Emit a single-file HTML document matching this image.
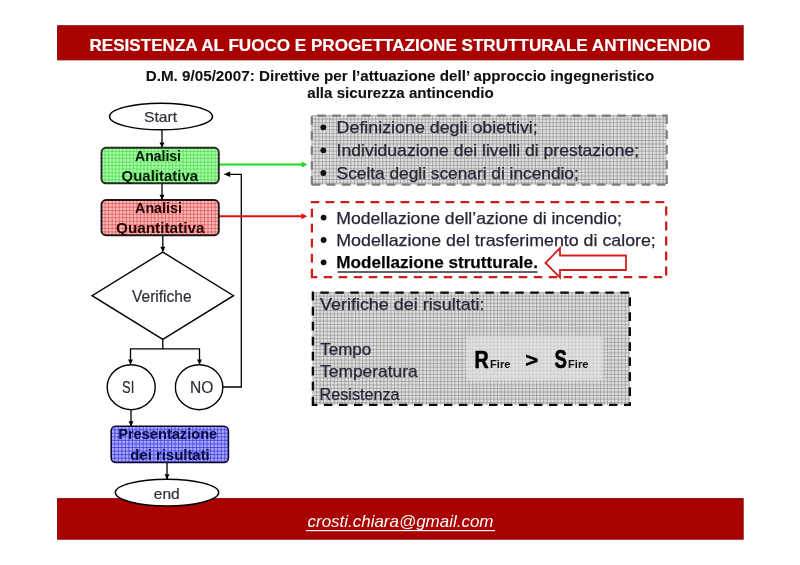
<!DOCTYPE html>
<html><head><meta charset="utf-8">
<style>
html,body{margin:0;padding:0;background:#fff;width:800px;height:565px;overflow:hidden}
svg{display:block;will-change:transform}
text{font-family:"Liberation Sans",sans-serif}
</style></head>
<body>
<svg width="800" height="565" viewBox="0 0 800 565">
<defs>
  <filter id="soft" x="-10%" y="-20%" width="120%" height="140%"><feGaussianBlur stdDeviation="1.2"/></filter>
  <marker id="ah" markerWidth="6" markerHeight="6" refX="5" refY="3" orient="auto" markerUnits="userSpaceOnUse">
    <path d="M0 0L6 3L0 6z" fill="#000"/>
  </marker>
</defs>

<!-- top red bar -->
<rect x="57.6" y="25.7" width="685.6" height="34.2" fill="#a90000" stroke="#8c0000" stroke-width="0.9"/>
<text x="400" y="50.5" text-anchor="middle" font-size="17" font-weight="bold" fill="#fff" stroke="#fff" stroke-width="0.2" textLength="621" lengthAdjust="spacingAndGlyphs">RESISTENZA AL FUOCO E PROGETTAZIONE STRUTTURALE ANTINCENDIO</text>

<!-- subtitle -->
<text x="400" y="81" text-anchor="middle" font-size="15.4" font-weight="bold" fill="#111" stroke="#111" stroke-width="0.1" textLength="508.5" lengthAdjust="spacingAndGlyphs">D.M. 9/05/2007: Direttive per l’attuazione dell’ approccio ingegneristico</text>
<text x="400.5" y="98.2" text-anchor="middle" font-size="15.4" font-weight="bold" fill="#111" stroke="#111" stroke-width="0.1" textLength="186.5" lengthAdjust="spacingAndGlyphs">alla sicurezza antincendio</text>

<!-- bottom red bar -->
<rect x="57.6" y="498.6" width="685.6" height="40.6" fill="#a90000" stroke="#8c0000" stroke-width="0.9"/>
<text x="400.5" y="527.3" text-anchor="middle" font-size="17" font-style="italic" fill="#fff" textLength="186" lengthAdjust="spacingAndGlyphs">crosti.chiara@gmail.com</text>
<rect x="306" y="530" width="189" height="1.2" fill="#fff"/>

<!-- flowchart connectors -->
<g stroke="#000" stroke-width="1.3" fill="none">
  <line x1="162" y1="130" x2="162" y2="147"/>
  <line x1="162" y1="183.5" x2="162" y2="199.5"/>
  <line x1="162.8" y1="235.5" x2="162.8" y2="251.5"/>
  <polyline points="162.8,339.5 162.8,348.9 130.5,348.9 130.5,364"/>
  <polyline points="162.8,348.9 199.5,348.9 199.5,364"/>
  <polyline points="222.8,387 241.3,387 241.3,174.3 226,174.3"/>
  <line x1="131" y1="409.7" x2="131" y2="426"/>
  <line x1="167" y1="462.5" x2="167" y2="479"/>
</g>
<g fill="#000">
  <path d="M159.5 142.4L164.5 142.4L162 147.6z"/>
  <path d="M159.5 194.8L164.5 194.8L162 200z"/>
  <path d="M160.3 246.8L165.3 246.8L162.8 252z"/>
  <path d="M128.0 359.4L133.0 359.4L130.5 364.6z"/>
  <path d="M197.0 359.4L202.0 359.4L199.5 364.6z"/>
  <path d="M128.5 421.2L133.5 421.2L131 426.4z"/>
  <path d="M164.5 474.2L169.5 474.2L167 479.4z"/>
  <path d="M223.6 174.3L230.2 171.5L230.2 177.1z"/>
</g>

<!-- green & red connectors -->
<line x1="219" y1="164.5" x2="303" y2="164.5" stroke="#1edc1e" stroke-width="2.1"/>
<path d="M307.5 164.5L301.6 161.5L301.6 167.5z" fill="#1edc1e"/>
<line x1="219" y1="216.3" x2="302" y2="216.3" stroke="#e01010" stroke-width="2.1"/>
<path d="M307.2 216.3L301.3 213.3L301.3 219.3z" fill="#e01010"/>

<!-- start ellipse -->
<ellipse cx="161" cy="116.5" rx="51.5" ry="13.3" fill="#fff" stroke="#000" stroke-width="1.4"/>
<text x="160.6" y="121.6" text-anchor="middle" font-size="14.8" fill="#2e2e3a" stroke="#2e2e3a" stroke-width="0.2" textLength="33" lengthAdjust="spacingAndGlyphs">Start</text>

<!-- green box -->
<clipPath id="c1"><rect x="101.5" y="147.8" width="117.3" height="35.5" rx="4.5"/></clipPath>
<g clip-path="url(#c1)"><rect x="101.5" y="147.8" width="117.3" height="35.5" fill="#a8fea8"/><path d="M101.50 147.8V183.3M105.05 147.8V183.3M108.60 147.8V183.3M112.15 147.8V183.3M115.70 147.8V183.3M119.25 147.8V183.3M122.80 147.8V183.3M126.35 147.8V183.3M129.90 147.8V183.3M133.45 147.8V183.3M137.00 147.8V183.3M140.55 147.8V183.3M144.10 147.8V183.3M147.65 147.8V183.3M151.20 147.8V183.3M154.75 147.8V183.3M158.30 147.8V183.3M161.85 147.8V183.3M165.40 147.8V183.3M168.95 147.8V183.3M172.50 147.8V183.3M176.05 147.8V183.3M179.60 147.8V183.3M183.15 147.8V183.3M186.70 147.8V183.3M190.25 147.8V183.3M193.80 147.8V183.3M197.35 147.8V183.3M200.90 147.8V183.3M204.45 147.8V183.3M208.00 147.8V183.3M211.55 147.8V183.3M215.10 147.8V183.3M218.65 147.8V183.3M101.5 147.80H218.8M101.5 151.35H218.8M101.5 154.90H218.8M101.5 158.45H218.8M101.5 162.00H218.8M101.5 165.55H218.8M101.5 169.10H218.8M101.5 172.65H218.8M101.5 176.20H218.8M101.5 179.75H218.8" stroke="#4ad64a" stroke-width="0.7" fill="none"/></g>
<rect x="101.5" y="147.8" width="117.3" height="35.5" rx="4.5" fill="none" stroke="#232823" stroke-width="1.9"/>
<text x="158" y="160.5" text-anchor="middle" font-size="15" font-weight="bold" fill="#001800" textLength="46" lengthAdjust="spacingAndGlyphs">Analisi</text>
<text x="159.8" y="181" text-anchor="middle" font-size="15" font-weight="bold" fill="#001800" textLength="76.5" lengthAdjust="spacingAndGlyphs">Qualitativa</text>

<!-- red box -->
<clipPath id="c2"><rect x="101.5" y="200" width="117.3" height="35.2" rx="4.5"/></clipPath>
<g clip-path="url(#c2)"><rect x="101.5" y="200" width="117.3" height="35.2" fill="#ffbcbc"/><path d="M101.50 200V235.2M105.05 200V235.2M108.60 200V235.2M112.15 200V235.2M115.70 200V235.2M119.25 200V235.2M122.80 200V235.2M126.35 200V235.2M129.90 200V235.2M133.45 200V235.2M137.00 200V235.2M140.55 200V235.2M144.10 200V235.2M147.65 200V235.2M151.20 200V235.2M154.75 200V235.2M158.30 200V235.2M161.85 200V235.2M165.40 200V235.2M168.95 200V235.2M172.50 200V235.2M176.05 200V235.2M179.60 200V235.2M183.15 200V235.2M186.70 200V235.2M190.25 200V235.2M193.80 200V235.2M197.35 200V235.2M200.90 200V235.2M204.45 200V235.2M208.00 200V235.2M211.55 200V235.2M215.10 200V235.2M218.65 200V235.2M101.5 200.00H218.8M101.5 203.55H218.8M101.5 207.10H218.8M101.5 210.65H218.8M101.5 214.20H218.8M101.5 217.75H218.8M101.5 221.30H218.8M101.5 224.85H218.8M101.5 228.40H218.8M101.5 231.95H218.8" stroke="#d84c4c" stroke-width="0.7" fill="none"/></g>
<rect x="101.5" y="200" width="117.3" height="35.2" rx="4.5" fill="none" stroke="#221414" stroke-width="1.9"/>
<text x="158.5" y="213" text-anchor="middle" font-size="15" font-weight="bold" fill="#200" textLength="46.9" lengthAdjust="spacingAndGlyphs">Analisi</text>
<text x="160.2" y="233.2" text-anchor="middle" font-size="15" font-weight="bold" fill="#200" textLength="88.4" lengthAdjust="spacingAndGlyphs">Quantitativa</text>

<!-- diamond -->
<path d="M162.8 252.1L233.5 295.7L162.8 339.4L92.1 295.7z" fill="#fff" stroke="#000" stroke-width="1.4"/>
<text x="161.8" y="301.6" text-anchor="middle" font-size="16" fill="#2e2e3a" stroke="#2e2e3a" stroke-width="0.2" textLength="59.5" lengthAdjust="spacingAndGlyphs">Verifiche</text>

<!-- SI / NO -->
<ellipse cx="131.2" cy="387.2" rx="24" ry="22.5" fill="#fff" stroke="#000" stroke-width="1.4"/>
<text x="128.2" y="393.4" text-anchor="middle" font-size="16" fill="#2e2e3a" stroke="#2e2e3a" stroke-width="0.2" textLength="12.2" lengthAdjust="spacingAndGlyphs">SI</text>
<ellipse cx="199.1" cy="387.2" rx="23.7" ry="22.5" fill="#fff" stroke="#000" stroke-width="1.4"/>
<text x="201.7" y="393.4" text-anchor="middle" font-size="16" fill="#2e2e3a" stroke="#2e2e3a" stroke-width="0.2" textLength="23.4" lengthAdjust="spacingAndGlyphs">NO</text>

<!-- blue box -->
<clipPath id="c3"><rect x="111.2" y="426.2" width="117.2" height="36.3" rx="4.5"/></clipPath>
<g clip-path="url(#c3)"><rect x="111.2" y="426.2" width="117.2" height="36.3" fill="#a8a8ff"/><path d="M111.20 426.2V462.5M114.75 426.2V462.5M118.30 426.2V462.5M121.85 426.2V462.5M125.40 426.2V462.5M128.95 426.2V462.5M132.50 426.2V462.5M136.05 426.2V462.5M139.60 426.2V462.5M143.15 426.2V462.5M146.70 426.2V462.5M150.25 426.2V462.5M153.80 426.2V462.5M157.35 426.2V462.5M160.90 426.2V462.5M164.45 426.2V462.5M168.00 426.2V462.5M171.55 426.2V462.5M175.10 426.2V462.5M178.65 426.2V462.5M182.20 426.2V462.5M185.75 426.2V462.5M189.30 426.2V462.5M192.85 426.2V462.5M196.40 426.2V462.5M199.95 426.2V462.5M203.50 426.2V462.5M207.05 426.2V462.5M210.60 426.2V462.5M214.15 426.2V462.5M217.70 426.2V462.5M221.25 426.2V462.5M224.80 426.2V462.5M228.35 426.2V462.5M111.2 426.20H228.4M111.2 429.75H228.4M111.2 433.30H228.4M111.2 436.85H228.4M111.2 440.40H228.4M111.2 443.95H228.4M111.2 447.50H228.4M111.2 451.05H228.4M111.2 454.60H228.4M111.2 458.15H228.4M111.2 461.70H228.4" stroke="#3a3ad8" stroke-width="0.75" fill="none"/></g>
<rect x="111.2" y="426.2" width="117.2" height="36.3" rx="4.5" fill="none" stroke="#0a0a30" stroke-width="1.6"/>
<text x="167.7" y="439.2" text-anchor="middle" font-size="15" font-weight="bold" fill="#0a0a40" textLength="99" lengthAdjust="spacingAndGlyphs">Presentazione</text>
<text x="170" y="459.5" text-anchor="middle" font-size="15" font-weight="bold" fill="#0a0a40" textLength="79.5" lengthAdjust="spacingAndGlyphs">dei risultati</text>

<!-- end ellipse -->
<ellipse cx="167" cy="492.6" rx="51.7" ry="13.3" fill="#fff" stroke="#000" stroke-width="1.4"/>
<text x="166.8" y="498.5" text-anchor="middle" font-size="14.8" fill="#2e2e3a" stroke="#2e2e3a" stroke-width="0.2" textLength="25.9" lengthAdjust="spacingAndGlyphs">end</text>

<!-- gray box 1 -->
<rect x="311.8" y="115.6" width="354.9" height="69.1" fill="#e0e0e0"/><path d="M311.80 115.6V184.7M315.35 115.6V184.7M318.90 115.6V184.7M322.45 115.6V184.7M326.00 115.6V184.7M329.55 115.6V184.7M333.10 115.6V184.7M336.65 115.6V184.7M340.20 115.6V184.7M343.75 115.6V184.7M347.30 115.6V184.7M350.85 115.6V184.7M354.40 115.6V184.7M357.95 115.6V184.7M361.50 115.6V184.7M365.05 115.6V184.7M368.60 115.6V184.7M372.15 115.6V184.7M375.70 115.6V184.7M379.25 115.6V184.7M382.80 115.6V184.7M386.35 115.6V184.7M389.90 115.6V184.7M393.45 115.6V184.7M397.00 115.6V184.7M400.55 115.6V184.7M404.10 115.6V184.7M407.65 115.6V184.7M411.20 115.6V184.7M414.75 115.6V184.7M418.30 115.6V184.7M421.85 115.6V184.7M425.40 115.6V184.7M428.95 115.6V184.7M432.50 115.6V184.7M436.05 115.6V184.7M439.60 115.6V184.7M443.15 115.6V184.7M446.70 115.6V184.7M450.25 115.6V184.7M453.80 115.6V184.7M457.35 115.6V184.7M460.90 115.6V184.7M464.45 115.6V184.7M468.00 115.6V184.7M471.55 115.6V184.7M475.10 115.6V184.7M478.65 115.6V184.7M482.20 115.6V184.7M485.75 115.6V184.7M489.30 115.6V184.7M492.85 115.6V184.7M496.40 115.6V184.7M499.95 115.6V184.7M503.50 115.6V184.7M507.05 115.6V184.7M510.60 115.6V184.7M514.15 115.6V184.7M517.70 115.6V184.7M521.25 115.6V184.7M524.80 115.6V184.7M528.35 115.6V184.7M531.90 115.6V184.7M535.45 115.6V184.7M539.00 115.6V184.7M542.55 115.6V184.7M546.10 115.6V184.7M549.65 115.6V184.7M553.20 115.6V184.7M556.75 115.6V184.7M560.30 115.6V184.7M563.85 115.6V184.7M567.40 115.6V184.7M570.95 115.6V184.7M574.50 115.6V184.7M578.05 115.6V184.7M581.60 115.6V184.7M585.15 115.6V184.7M588.70 115.6V184.7M592.25 115.6V184.7M595.80 115.6V184.7M599.35 115.6V184.7M602.90 115.6V184.7M606.45 115.6V184.7M610.00 115.6V184.7M613.55 115.6V184.7M617.10 115.6V184.7M620.65 115.6V184.7M624.20 115.6V184.7M627.75 115.6V184.7M631.30 115.6V184.7M634.85 115.6V184.7M638.40 115.6V184.7M641.95 115.6V184.7M645.50 115.6V184.7M649.05 115.6V184.7M652.60 115.6V184.7M656.15 115.6V184.7M659.70 115.6V184.7M663.25 115.6V184.7M311.8 115.60H666.7M311.8 119.15H666.7M311.8 122.70H666.7M311.8 126.25H666.7M311.8 129.80H666.7M311.8 133.35H666.7M311.8 136.90H666.7M311.8 140.45H666.7M311.8 144.00H666.7M311.8 147.55H666.7M311.8 151.10H666.7M311.8 154.65H666.7M311.8 158.20H666.7M311.8 161.75H666.7M311.8 165.30H666.7M311.8 168.85H666.7M311.8 172.40H666.7M311.8 175.95H666.7M311.8 179.50H666.7M311.8 183.05H666.7" stroke="#8e8e8e" stroke-width="0.65" fill="none"/>
<path d="M317.20 115.6H325.80M332.20 115.6H340.80M347.20 115.6H355.80M362.20 115.6H370.80M377.20 115.6H385.80M392.20 115.6H400.80M407.20 115.6H415.80M422.20 115.6H430.80M437.20 115.6H445.80M452.20 115.6H460.80M467.20 115.6H475.80M482.20 115.6H490.80M497.20 115.6H505.80M512.20 115.6H520.80M527.20 115.6H535.80M542.20 115.6H550.80M557.20 115.6H565.80M572.20 115.6H580.80M587.20 115.6H595.80M602.20 115.6H610.80M617.20 115.6H625.80M632.20 115.6H640.80M647.20 115.6H655.80M662.20 115.6H667.80M311.80 184.7H320.40M326.80 184.7H335.40M341.80 184.7H350.40M356.80 184.7H365.40M371.80 184.7H380.40M386.80 184.7H395.40M401.80 184.7H410.40M416.80 184.7H425.40M431.80 184.7H440.40M446.80 184.7H455.40M461.80 184.7H470.40M476.80 184.7H485.40M491.80 184.7H500.40M506.80 184.7H515.40M521.80 184.7H530.40M536.80 184.7H545.40M551.80 184.7H560.40M566.80 184.7H575.40M581.80 184.7H590.40M596.80 184.7H605.40M611.80 184.7H620.40M626.80 184.7H635.40M641.80 184.7H650.40M656.80 184.7H665.40M311.8 116.30V124.70M311.8 131.30V139.70M311.8 146.30V154.70M311.8 161.30V169.70M311.8 176.30V184.70M666.7 115.30V123.90M666.7 130.30V138.90M666.7 145.30V153.90M666.7 160.30V168.90M666.7 175.30V183.90" stroke="#7c7c7c" stroke-width="2.2" fill="none"/>
<g fill="#111">
  <circle cx="323.3" cy="127.3" r="2.9"/>
  <circle cx="323.3" cy="150.3" r="2.9"/>
  <circle cx="323.3" cy="173" r="2.9"/>
</g>
<g font-size="16.2" fill="#262636" stroke="#262636" stroke-width="0.25">
  <text x="336.6" y="133.2" textLength="201.2" lengthAdjust="spacingAndGlyphs">Definizione degli obiettivi;</text>
  <text x="336.6" y="156.4" textLength="302.6" lengthAdjust="spacingAndGlyphs">Individuazione dei livelli di prestazione;</text>
  <text x="336.6" y="179" textLength="242.2" lengthAdjust="spacingAndGlyphs">Scelta degli scenari di incendio;</text>
</g>

<!-- red dashed box -->
<path d="M310.75 202.1H319.30M325.50 202.1H334.30M340.50 202.1H349.30M355.50 202.1H364.30M370.50 202.1H379.30M385.50 202.1H394.30M400.50 202.1H409.30M415.50 202.1H424.30M430.50 202.1H439.30M445.50 202.1H454.30M460.50 202.1H469.30M475.50 202.1H484.30M490.50 202.1H499.30M505.50 202.1H514.30M520.50 202.1H529.30M535.50 202.1H544.30M550.50 202.1H559.30M565.50 202.1H574.30M580.50 202.1H589.30M595.50 202.1H604.30M610.50 202.1H619.30M625.50 202.1H634.30M640.50 202.1H649.30M655.50 202.1H664.30M310.75 277.2H317.25M323.75 277.2H332.25M338.75 277.2H347.25M353.75 277.2H362.25M368.75 277.2H377.25M383.75 277.2H392.25M398.75 277.2H407.25M413.75 277.2H422.25M428.75 277.2H437.25M443.75 277.2H452.25M458.75 277.2H467.25M473.75 277.2H482.25M488.75 277.2H497.25M503.75 277.2H512.25M518.75 277.2H527.25M533.75 277.2H542.25M548.75 277.2H557.25M563.75 277.2H572.25M578.75 277.2H587.25M593.75 277.2H602.25M608.75 277.2H617.25M623.75 277.2H632.25M638.75 277.2H647.25M653.75 277.2H662.25M311.9 200.95V202.40M311.9 208.80V217.40M311.9 223.80V232.40M311.9 238.80V247.40M311.9 253.80V262.40M311.9 268.80V277.40M666.2 206.40V215.40M666.2 221.40V230.40M666.2 236.40V245.40M666.2 251.40V260.40M666.2 266.40V275.40" stroke="#cf1c1c" stroke-width="2.3" fill="none"/>
<g fill="#111">
  <circle cx="323.6" cy="217.6" r="2.9"/>
  <circle cx="323.6" cy="240" r="2.9"/>
  <circle cx="323.6" cy="262.3" r="2.9"/>
</g>
<g font-size="16.2" fill="#262636" stroke="#262636" stroke-width="0.25">
  <text x="336.3" y="223.7" textLength="285.6" lengthAdjust="spacingAndGlyphs">Modellazione dell’azione di incendio;</text>
  <text x="336.3" y="245.6" textLength="319.5" lengthAdjust="spacingAndGlyphs">Modellazione del trasferimento di calore;</text>
  <text x="336.3" y="268" font-weight="bold" fill="#000" textLength="201.6" lengthAdjust="spacingAndGlyphs">Modellazione strutturale.</text>
</g>
<rect x="337.5" y="271.3" width="200" height="1.4" fill="#222"/>
<!-- hollow arrow -->
<path d="M545.5 263L560 248L560 255.5L626 255.5L626 270L560 270L560 277.5z" fill="#fff" stroke="#d42020" stroke-width="1.8" stroke-linejoin="miter"/>

<!-- gray box 2 -->
<rect x="312.9" y="292.6" width="316.9" height="112.3" fill="#e0e0e0"/><path d="M312.90 292.6V404.90000000000003M316.45 292.6V404.90000000000003M320.00 292.6V404.90000000000003M323.55 292.6V404.90000000000003M327.10 292.6V404.90000000000003M330.65 292.6V404.90000000000003M334.20 292.6V404.90000000000003M337.75 292.6V404.90000000000003M341.30 292.6V404.90000000000003M344.85 292.6V404.90000000000003M348.40 292.6V404.90000000000003M351.95 292.6V404.90000000000003M355.50 292.6V404.90000000000003M359.05 292.6V404.90000000000003M362.60 292.6V404.90000000000003M366.15 292.6V404.90000000000003M369.70 292.6V404.90000000000003M373.25 292.6V404.90000000000003M376.80 292.6V404.90000000000003M380.35 292.6V404.90000000000003M383.90 292.6V404.90000000000003M387.45 292.6V404.90000000000003M391.00 292.6V404.90000000000003M394.55 292.6V404.90000000000003M398.10 292.6V404.90000000000003M401.65 292.6V404.90000000000003M405.20 292.6V404.90000000000003M408.75 292.6V404.90000000000003M412.30 292.6V404.90000000000003M415.85 292.6V404.90000000000003M419.40 292.6V404.90000000000003M422.95 292.6V404.90000000000003M426.50 292.6V404.90000000000003M430.05 292.6V404.90000000000003M433.60 292.6V404.90000000000003M437.15 292.6V404.90000000000003M440.70 292.6V404.90000000000003M444.25 292.6V404.90000000000003M447.80 292.6V404.90000000000003M451.35 292.6V404.90000000000003M454.90 292.6V404.90000000000003M458.45 292.6V404.90000000000003M462.00 292.6V404.90000000000003M465.55 292.6V404.90000000000003M469.10 292.6V404.90000000000003M472.65 292.6V404.90000000000003M476.20 292.6V404.90000000000003M479.75 292.6V404.90000000000003M483.30 292.6V404.90000000000003M486.85 292.6V404.90000000000003M490.40 292.6V404.90000000000003M493.95 292.6V404.90000000000003M497.50 292.6V404.90000000000003M501.05 292.6V404.90000000000003M504.60 292.6V404.90000000000003M508.15 292.6V404.90000000000003M511.70 292.6V404.90000000000003M515.25 292.6V404.90000000000003M518.80 292.6V404.90000000000003M522.35 292.6V404.90000000000003M525.90 292.6V404.90000000000003M529.45 292.6V404.90000000000003M533.00 292.6V404.90000000000003M536.55 292.6V404.90000000000003M540.10 292.6V404.90000000000003M543.65 292.6V404.90000000000003M547.20 292.6V404.90000000000003M550.75 292.6V404.90000000000003M554.30 292.6V404.90000000000003M557.85 292.6V404.90000000000003M561.40 292.6V404.90000000000003M564.95 292.6V404.90000000000003M568.50 292.6V404.90000000000003M572.05 292.6V404.90000000000003M575.60 292.6V404.90000000000003M579.15 292.6V404.90000000000003M582.70 292.6V404.90000000000003M586.25 292.6V404.90000000000003M589.80 292.6V404.90000000000003M593.35 292.6V404.90000000000003M596.90 292.6V404.90000000000003M600.45 292.6V404.90000000000003M604.00 292.6V404.90000000000003M607.55 292.6V404.90000000000003M611.10 292.6V404.90000000000003M614.65 292.6V404.90000000000003M618.20 292.6V404.90000000000003M621.75 292.6V404.90000000000003M625.30 292.6V404.90000000000003M628.85 292.6V404.90000000000003M312.9 292.60H629.8M312.9 296.15H629.8M312.9 299.70H629.8M312.9 303.25H629.8M312.9 306.80H629.8M312.9 310.35H629.8M312.9 313.90H629.8M312.9 317.45H629.8M312.9 321.00H629.8M312.9 324.55H629.8M312.9 328.10H629.8M312.9 331.65H629.8M312.9 335.20H629.8M312.9 338.75H629.8M312.9 342.30H629.8M312.9 345.85H629.8M312.9 349.40H629.8M312.9 352.95H629.8M312.9 356.50H629.8M312.9 360.05H629.8M312.9 363.60H629.8M312.9 367.15H629.8M312.9 370.70H629.8M312.9 374.25H629.8M312.9 377.80H629.8M312.9 381.35H629.8M312.9 384.90H629.8M312.9 388.45H629.8M312.9 392.00H629.8M312.9 395.55H629.8M312.9 399.10H629.8M312.9 402.65H629.8" stroke="#8e8e8e" stroke-width="0.65" fill="none"/>
<path d="M311.70 292.6H313.80M320.30 292.6H328.80M335.30 292.6H343.80M350.30 292.6H358.80M365.30 292.6H373.80M380.30 292.6H388.80M395.30 292.6H403.80M410.30 292.6H418.80M425.30 292.6H433.80M440.30 292.6H448.80M455.30 292.6H463.80M470.30 292.6H478.80M485.30 292.6H493.80M500.30 292.6H508.80M515.30 292.6H523.80M530.30 292.6H538.80M545.30 292.6H553.80M560.30 292.6H568.80M575.30 292.6H583.80M590.30 292.6H598.80M605.30 292.6H613.80M620.30 292.6H628.80M311.70 404.9H317.40M324.00 404.9H332.40M339.00 404.9H347.40M354.00 404.9H362.40M369.00 404.9H377.40M384.00 404.9H392.40M399.00 404.9H407.40M414.00 404.9H422.40M429.00 404.9H437.40M444.00 404.9H452.40M459.00 404.9H467.40M474.00 404.9H482.40M489.00 404.9H497.40M504.00 404.9H512.40M519.00 404.9H527.40M534.00 404.9H542.40M549.00 404.9H557.40M564.00 404.9H572.40M579.00 404.9H587.40M594.00 404.9H602.40M609.00 404.9H617.40M624.00 404.9H631.00M312.9 291.80V300.40M312.9 306.80V315.40M312.9 321.80V330.40M312.9 336.80V345.40M312.9 351.80V360.40M312.9 366.80V375.40M312.9 381.80V390.40M312.9 396.80V405.40M629.8 297.20V305.90M629.8 312.20V320.90M629.8 327.20V335.90M629.8 342.20V350.90M629.8 357.20V365.90M629.8 372.20V380.90M629.8 387.20V395.90M629.8 402.20V406.10" stroke="#0a0a0a" stroke-width="2.4" fill="none"/>
<rect x="466" y="336" width="137" height="45" rx="3" fill="#e2e2e2" opacity="0.7" filter="url(#soft)"/>
<g font-size="16.2" fill="#262636" stroke="#262636" stroke-width="0.25">
  <text x="320" y="309.8" textLength="164.6" lengthAdjust="spacingAndGlyphs">Verifiche dei risultati:</text>
  <text x="320.2" y="354.8" textLength="51" lengthAdjust="spacingAndGlyphs">Tempo</text>
  <text x="320.2" y="376.8" textLength="97.4" lengthAdjust="spacingAndGlyphs">Temperatura</text>
  <text x="319.6" y="400" textLength="80" lengthAdjust="spacingAndGlyphs">Resistenza</text>
</g>
<g font-weight="bold" fill="#000">
  <text x="474.6" y="367.6" font-size="24.5" stroke="#000" stroke-width="0.6" textLength="14.2" lengthAdjust="spacingAndGlyphs">R</text>
  <text x="490" y="368.3" font-size="11.5" fill="#111" textLength="20.5" lengthAdjust="spacingAndGlyphs">Fire</text>
  <text x="525.2" y="366.8" font-size="21" stroke="#000" stroke-width="0.45" textLength="13" lengthAdjust="spacingAndGlyphs">&gt;</text>
  <text x="554.6" y="368" font-size="25" stroke="#000" stroke-width="0.6" textLength="12.4" lengthAdjust="spacingAndGlyphs">S</text>
  <text x="568" y="368.3" font-size="11.5" fill="#111" textLength="20.5" lengthAdjust="spacingAndGlyphs">Fire</text>
</g>
</svg>
</body></html>
